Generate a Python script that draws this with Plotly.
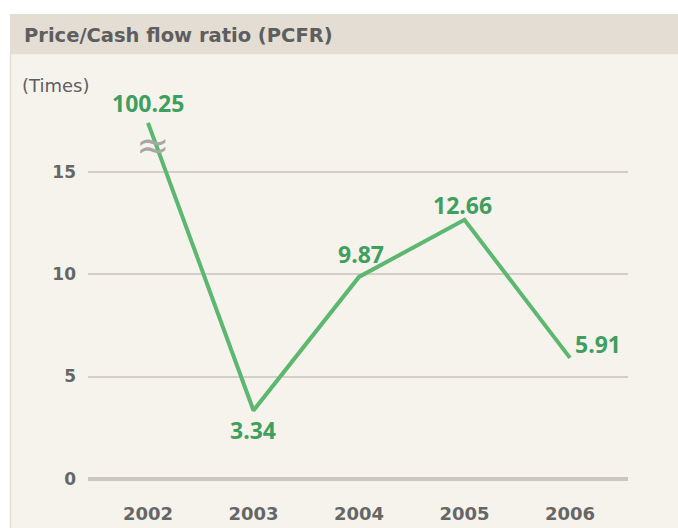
import plotly.graph_objects as go

years = ["2002", "2003", "2004", "2005", "2006"]
pcfr = [100.25, 3.34, 9.87, 12.66, 5.91]
y_ticks = [0, 5, 10, 15]
break_display = 17.4   # where the off-scale 2002 value is drawn (axis break)

AXIS_TOP = 18.42
y_plot = [v if v <= AXIS_TOP else break_display for v in pcfr]
xs = list(range(len(years)))

LINE = "#5cb870"
TEXT_G = "#3f9f5e"
BG = "#f6f3ed"
BAR = "#e3ddd4"
GRAY = "#5e5e5e"

SY = 536 / 528          # vertical compensation of the capture
W, H = 678, 536
L, R = 88, 50
T, B = round(100 * SY), H - round(486 * SY)
pw, ph = W - L - R, H - T - B

def px(x):
    return (x - L) / pw

def py(y):
    return (H - B - y * SY) / ph

fig = go.Figure()
fig.add_trace(go.Scatter(
    x=xs, y=y_plot, mode="lines",
    line=dict(color=LINE, width=4), hoverinfo="skip", cliponaxis=False))

# value labels (x shift, y shift in px, + is up)
shifts = [(0, 20), (0, -19), (2, 23), (-2, 15), (28, 14)]
for i, (dx, dy) in enumerate(shifts):
    fig.add_annotation(x=xs[i], y=y_plot[i], text=f"{pcfr[i]:.2f}", showarrow=False,
                       xanchor="center", yanchor="middle", xshift=dx, yshift=dy * SY,
                       font=dict(family="Open Sans", size=23, color=TEXT_G, weight="bold"))

# axis break mark
fig.add_annotation(x=xs[0] + 0.05, y=16.3, text="≈", showarrow=False,
                   font=dict(family="DejaVu Sans", size=40, color="#a9a7a3"),
                   xanchor="center", yanchor="middle")

shapes = [
    dict(type="rect", xref="paper", yref="paper", x0=px(10), x1=px(678), y0=py(540), y1=py(13),
         fillcolor=BG, line_width=0, layer="below"),
    dict(type="rect", xref="paper", yref="paper", x0=px(10), x1=px(678), y0=py(53), y1=py(13),
         fillcolor=BAR, line_width=0, layer="below"),
    dict(type="line", xref="paper", yref="paper", x0=px(10.5), x1=px(10.5), y0=py(540), y1=py(53),
         line=dict(color="#e2ddd5", width=1.5), layer="below"),
]

fig.add_annotation(xref="paper", yref="paper", x=px(22), y=py(34),
                   text="<b>Price/Cash flow ratio (PCFR)</b>",
                   showarrow=False, xanchor="left", yanchor="middle",
                   font=dict(family="DejaVu Sans", size=19.5, color=GRAY))
fig.add_annotation(xref="paper", yref="paper", x=px(20), y=py(84), text="(Times)",
                   showarrow=False, xanchor="left", yanchor="middle",
                   font=dict(family="DejaVu Sans", size=18, color=GRAY))

fig.update_layout(
    width=W, height=H, margin=dict(l=L, r=R, t=T, b=B),
    paper_bgcolor="white", plot_bgcolor=BG, showlegend=False,
    shapes=shapes, hovermode=False,
    xaxis=dict(range=[-60 / 105.5, 4.55], tickvals=xs, ticktext=years,
               showgrid=False, zeroline=False, showline=False, ticks="",
               ticklabelstandoff=12,
               tickfont=dict(family="DejaVu Sans", size=18, color="#666666", weight="bold")),
    yaxis=dict(range=[-0.5, AXIS_TOP], tickvals=y_ticks, showgrid=True,
               gridcolor="#d3cfc8", gridwidth=1.5, zeroline=True, zerolinecolor="#cbc7c0",
               zerolinewidth=3.5, showline=False, ticks="", ticklabelstandoff=11,
               tickfont=dict(family="DejaVu Sans", size=17, color="#666666", weight="bold")),
)

fig.write_html("out.html", config={"displayModeBar": False},
               post_script="document.body.style.margin='0';document.body.style.overflow='hidden';")
